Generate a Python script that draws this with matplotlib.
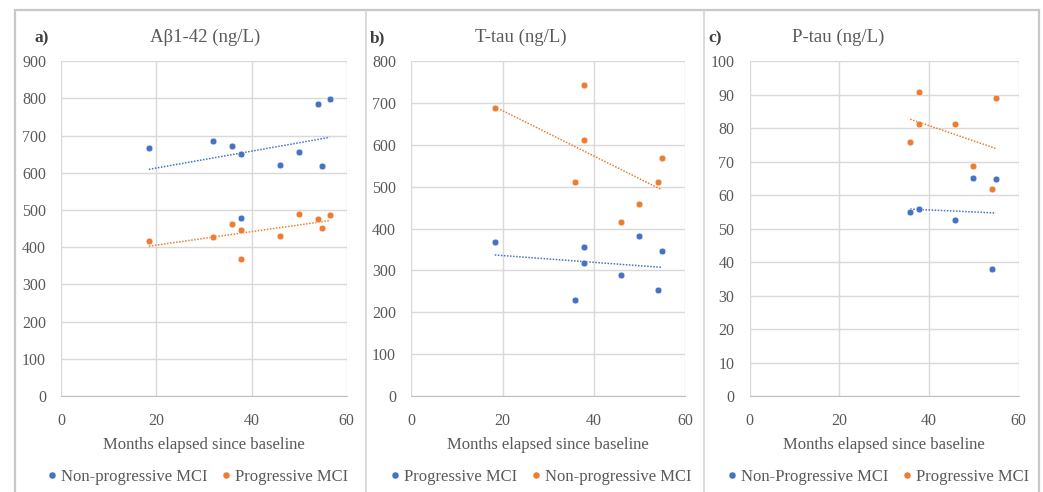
import numpy as np
import matplotlib.pyplot as plt
from matplotlib.patches import Rectangle
from matplotlib.lines import Line2D

plt.rcParams["font.family"] = ["Liberation Serif", "DejaVu Serif"]

BLUE = "#4472C4"
ORANGE = "#ED7D31"
GREY = "#595959"

# a) Abeta1-42
a_blue_x = [18.4, 31.8, 35.8, 37.8, 45.9, 49.9, 54.0, 56.4, 54.8, 37.8]
a_blue_y = [668, 687, 673, 652, 621, 655, 784, 799, 618, 478]
a_orange_x = [18.4, 31.8, 35.8, 37.8, 37.8, 45.9, 49.9, 54.0, 54.8, 56.4]
a_orange_y = [418, 428, 463, 446, 368, 431, 490, 475, 453, 488]

# b) T-tau
b_blue_x = [18.3, 35.8, 37.9, 37.9, 46.0, 49.9, 54.1, 54.9]
b_blue_y = [369, 230, 355, 318, 289, 383, 253, 347]
b_orange_x = [18.3, 37.9, 37.9, 35.8, 54.9, 54.1, 49.9, 46.0]
b_orange_y = [688, 743, 613, 512, 569, 511, 459, 415]

# c) P-tau
c_blue_x = [35.8, 37.8, 45.9, 49.9, 54.9, 54.1]
c_blue_y = [55.0, 55.9, 52.6, 65.1, 64.8, 37.8]
c_orange_x = [37.8, 54.9, 37.8, 45.9, 35.8, 49.9, 54.1]
c_orange_y = [90.9, 88.9, 81.4, 81.3, 75.9, 68.6, 61.9]

panels = [
    ("a)", "A\u03b21-42 (ng/L)", 900, 100,
     (a_blue_x, a_blue_y, "Non-progressive MCI"),
     (a_orange_x, a_orange_y, "Progressive MCI")),
    ("b)", "T-tau (ng/L)", 800, 100,
     (b_blue_x, b_blue_y, "Progressive MCI"),
     (b_orange_x, b_orange_y, "Non-progressive MCI")),
    ("c)", "P-tau (ng/L)", 100, 10,
     (c_blue_x, c_blue_y, "Non-Progressive MCI"),
     (c_orange_x, c_orange_y, "Progressive MCI")),
]

W, H = 1043, 492
fig = plt.figure(figsize=(W / 100, H / 100), dpi=100)

# outer frame and dividers (pixel positions)
fig.patches.append(Rectangle((15 / W, -0.1), 1024 / W, (H - 10) / H + 0.1,
                             transform=fig.transFigure, fill=False,
                             ec="#C8C8C8", lw=1.6))
for xd in (366, 704):
    fig.lines.append(Line2D([xd / W, xd / W], [-0.1, (H - 11) / H],
                            transform=fig.transFigure, color="#D4D4D4", lw=1.2))

ax_px = [(61.3, 346.7), (411.3, 685), (749.7, 1018.7)]
tag_x = [42, 377, 715]
title_x = [205, 521, 838]
legend_x = [197, 540, 877]
top, bottom = 61.3, 396

for (tag, title, ymax, ystep, s1, s2), (l, r), tx, ttx, lx in zip(
        panels, ax_px, tag_x, title_x, legend_x):
    ax = fig.add_axes([l / W, (H - bottom) / H, (r - l) / W, (bottom - top) / H])
    for (x, y, lab), col in ((s1, BLUE), (s2, ORANGE)):
        ax.plot(x, y, "o", color=col, ms=4.8, mec="white", mew=0.3, label=lab,
                zorder=3)
        k, b = np.polyfit(x, y, 1)
        xx = np.array([min(x), max(x)])
        ax.plot(xx, k * xx + b, color=col, lw=1.1, ls=(0, (1, 1)), zorder=2)
    ax.set_xlim(0, 60)
    ax.set_ylim(0, ymax)
    ax.set_xticks([0, 20, 40, 60])
    ax.set_yticks(np.arange(0, ymax + 1, ystep))
    ax.grid(True, color="#D9D9D9", lw=1)
    ax.set_axisbelow(True)
    for s in ("top", "right", "left"):
        ax.spines[s].set_visible(False)
    ax.spines["bottom"].set_color("#BFBFBF")
    ax.tick_params(length=0, labelsize=11.5, colors=GREY)
    ax.tick_params(axis="y", pad=11)
    ax.tick_params(axis="x", pad=12)
    ax.set_xlabel("Months elapsed since baseline", fontsize=12, color=GREY,
                  labelpad=6)
    fig.text(tx / W, 1 - 38 / H, tag, fontsize=12.5, fontweight="bold",
             color="#404040", ha="center", va="center")
    fig.text(ttx / W, 1 - 37 / H, title, fontsize=13.5, color=GREY,
             ha="center", va="center")
    fig.legend(handles=ax.get_lines()[::2], loc="center",
               bbox_to_anchor=(lx / W, 1 - 477 / H),
               ncol=2, frameon=False, fontsize=12, labelcolor=GREY,
               handletextpad=0.15, columnspacing=0.7, markerscale=1.05,
               handlelength=0.8)

fig.savefig("out.png", dpi=100, facecolor="white")
